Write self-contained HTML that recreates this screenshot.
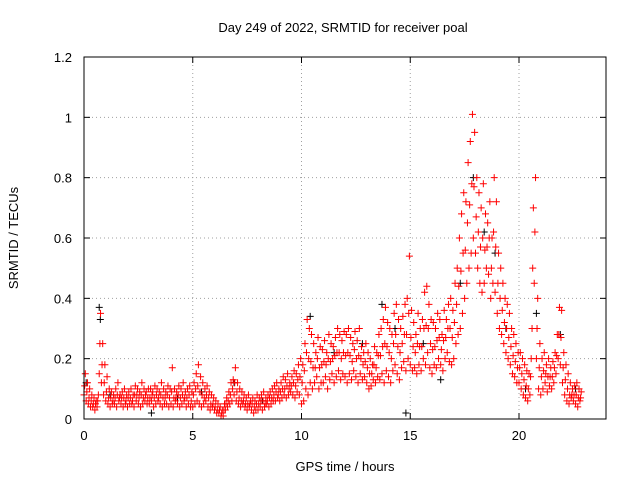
<!DOCTYPE html>
<html><head><meta charset="utf-8"><style>
body{margin:0;background:#fff}
svg{display:block;font-family:"Liberation Sans",sans-serif;font-size:13px}
</style></head><body>
<svg id="chart" width="640" height="480" viewBox="0 0 640 480">
<rect width="640" height="480" fill="#fff"/>
<text x="343" y="32" text-anchor="middle">Day 249 of 2022, SRMTID for receiver poal</text>
<text transform="translate(18,238) rotate(-90)" text-anchor="middle">SRMTID / TECUs</text>
<text x="345" y="471" text-anchor="middle">GPS time / hours</text>
<g id="grid"></g><g id="black"></g><g id="red"></g>
<rect x="84" y="57" width="522" height="362" fill="none" stroke="#000" stroke-width="1"/>
</svg>
<script>
const xTicks=[0,5,10,15,20];
const yTicks=[0,0.2,0.4,0.6,0.8,1,1.2];
const yTickLabels=["0","0.2","0.4","0.6","0.8","1","1.2"];
const tStart=0, tStep=0.1;
const redLo=[.08,.06,.05,.04,.04,.03,.04,.15,.12,.08,
.06,.05,.04,.05,.05,.04,.06,.05,.04,.05,
.04,.05,.05,.04,.06,.05,.04,.05,.06,.05,
.05,.06,.04,.05,.06,.05,.04,.05,.05,.04,
.05,.04,.06,.05,.04,.05,.06,.04,.05,.04,
.04,.05,.06,.05,.04,.05,.06,.04,.03,.04,
.03,.02,.02,.01,.01,.03,.04,.05,.06,.08,
.06,.05,.04,.05,.04,.03,.04,.03,.02,.03,
.03,.04,.03,.04,.05,.04,.05,.06,.06,.07,
.06,.07,.08,.07,.08,.09,.08,.07,.09,.08,
.05,.06,.10,.08,.12,.10,.12,.14,.10,.12,
.12,.14,.10,.13,.15,.12,.14,.16,.13,.15,
.14,.12,.15,.13,.16,.14,.12,.15,.13,.14,
.12,.10,.11,.13,.12,.14,.13,.15,.12,.16,
.14,.12,.16,.18,.15,.13,.17,.19,.16,.20,
.18,.16,.17,.15,.18,.16,.20,.18,.22,.17,
.15,.18,.17,.20,.18,.16,.20,.22,.19,.18,
.20,.25,.28,.30,.35,.40,.45,.50,.55,.60,
.55,.50,.45,.42,.45,.50,.48,.40,.45,.42,
.35,.30,.28,.25,.22,.20,.18,.15,.14,.12,
.12,.10,.08,.07,.06,.08,.30,.45,.20,.10,
.08,.10,.12,.09,.11,.10,.12,.15,.20,.18,
.12,.08,.06,.05,.07,.06,.05,.04,.06];
const redMid=[.11,.09,.07,.06,.05,.05,.06,.25,.18,.12,
.09,.07,.07,.06,.07,.08,.07,.07,.07,.06,
.07,.07,.06,.08,.08,.07,.08,.07,.08,.07,
.07,.08,.07,.08,.07,.08,.07,.07,.08,.07,
.09,.07,.07,.08,.07,.08,.07,.07,.08,.06,
.08,.10,.11,.09,.08,.07,.08,.07,.05,.05,
.04,.03,.03,.02,.03,.05,.06,.08,.10,.12,
.09,.07,.06,.06,.05,.05,.05,.05,.04,.05,
.05,.06,.06,.05,.06,.07,.07,.08,.09,.08,
.09,.10,.10,.11,.10,.11,.12,.11,.13,.14,
.12,.16,.22,.20,.19,.17,.17,.20,.17,.18,
.19,.18,.20,.19,.20,.21,.22,.22,.20,.22,
.21,.22,.21,.19,.23,.20,.21,.20,.18,.19,
.17,.15,.15,.18,.17,.21,.21,.24,.25,.24,
.22,.20,.25,.28,.24,.22,.25,.28,.28,.35,
.27,.24,.22,.25,.24,.24,.30,.31,.30,.25,
.23,.24,.26,.27,.23,.26,.27,.30,.30,.27,
.32,.38,.44,.49,.55,.56,.65,.71,.78,.77,
.67,.62,.57,.60,.56,.57,.60,.50,.62,.57,
.45,.40,.36,.32,.30,.27,.24,.21,.19,.17,
.17,.15,.13,.11,.10,.14,.50,.62,.30,.17,
.14,.16,.15,.14,.14,.14,.17,.21,.28,.27,
.17,.13,.10,.08,.08,.08,.08,.07,.07];
const redHi=[.15,.12,.10,.08,.07,.06,.08,.35,.25,.18,
.14,.10,.09,.08,.10,.12,.08,.09,.10,.08,
.09,.10,.08,.11,.10,.09,.12,.10,.09,.10,
.10,.09,.11,.10,.09,.12,.10,.09,.11,.10,
.17,.10,.09,.11,.10,.12,.09,.10,.11,.09,
.12,.15,.18,.14,.12,.10,.11,.09,.08,.07,
.06,.05,.04,.03,.05,.07,.09,.12,.13,.17,
.12,.10,.09,.08,.07,.08,.06,.07,.06,.08,
.07,.08,.09,.07,.08,.09,.10,.11,.12,.10,
.12,.14,.13,.15,.12,.14,.16,.15,.18,.20,
.18,.25,.33,.30,.28,.25,.22,.27,.24,.23,
.26,.22,.28,.25,.24,.27,.30,.28,.26,.29,
.28,.30,.27,.25,.29,.26,.30,.24,.22,.25,
.22,.20,.18,.24,.22,.28,.30,.33,.37,.32,
.30,.28,.35,.38,.33,.30,.34,.38,.40,.54,
.36,.32,.28,.35,.30,.33,.42,.44,.38,.33,
.32,.30,.35,.33,.28,.36,.33,.38,.40,.36,
.45,.50,.60,.68,.75,.72,.85,.92,1.01,.95,
.80,.75,.70,.78,.68,.65,.72,.60,.80,.72,
.55,.50,.45,.40,.38,.35,.30,.28,.25,.22,
.22,.20,.18,.16,.15,.20,.70,.80,.40,.25,
.20,.22,.18,.20,.17,.19,.22,.28,.37,.36,
.22,.18,.15,.12,.10,.11,.12,.10,.09];
const blackT=[0.1,0.7,0.75,1.2,3.1,4.3,5.4,6.9,8.2,10.4,11.5,12.8,13.7,14.3,14.8,15.6,16.4,17.3,17.9,18.4,18.9,19.4,20.3,20.8,21.9,22.6];
const blackV=[0.12,0.37,0.33,0.08,0.02,0.07,0.09,0.12,0.06,0.34,0.22,0.25,0.38,0.30,0.02,0.25,0.13,0.45,0.80,0.62,0.55,0.30,0.10,0.35,0.28,0.10];
const X=t=>84+t*(522/24);
const Y=v=>419-v*(362/1.2);
const NS="http://www.w3.org/2000/svg";
const grid=document.getElementById('grid');
function mk(tag,attrs,parent){const e=document.createElementNS(NS,tag);for(const k in attrs)e.setAttribute(k,attrs[k]);parent.appendChild(e);return e;}
xTicks.forEach(t=>{
  const x=X(t);
  if(t>0){const g=mk('line',{x1:x,x2:x,y1:57,y2:419,stroke:'#a0a0a0','stroke-dasharray':'1,3'},grid);
  
  }
  mk('line',{x1:x,x2:x,y1:419,y2:413,stroke:'#000'},grid);
  mk('line',{x1:x,x2:x,y1:57,y2:63,stroke:'#000'},grid);
  const l=mk('text',{x:x,y:440,'text-anchor':'middle'},grid);l.textContent=t;
  
  
});
yTicks.forEach((v,i)=>{
  const y=Y(v);
  if(v>0&&v<1.2){const g=mk('line',{x1:84,x2:606,y1:y,y2:y,stroke:'#a0a0a0','stroke-dasharray':'1,3'},grid);
  
  }
  mk('line',{x1:84,x2:90,y1:y,y2:y,stroke:'#000'},grid);
  mk('line',{x1:606,x2:600,y1:y,y2:y,stroke:'#000'},grid);
  const l=mk('text',{x:72,y:y+5,'text-anchor':'end'},grid);l.textContent=yTickLabels[i];
  
  
});
function cross(g,t,v,col){
  const x=X(t),y=Y(v);
  return mk('path',{d:`M${x-3.5},${y}h7M${x},${y-3.5}v7`,stroke:col,'stroke-width':1,fill:'none'},g);
}
const bg=document.getElementById('black');
blackT.forEach((t,i)=>{const p=cross(bg,t,blackV[i],'#000');
  
  });
const rg=document.getElementById('red');
redLo.forEach((v,i)=>{const t=tStart+i*tStep;
  const p=cross(rg,t,v,'#ff0000');
  
  
  const m=cross(rg,t+0.03,redMid[i],'#ff0000');
  
  
  const q=cross(rg,t+0.06,redHi[i],'#ff0000');
  
  
});
</script>
</body></html>
